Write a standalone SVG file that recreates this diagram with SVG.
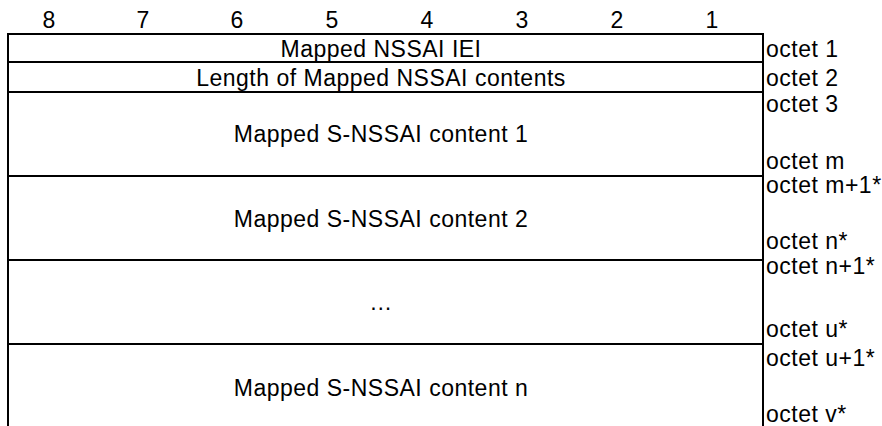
<svg xmlns="http://www.w3.org/2000/svg" width="882" height="426" viewBox="0 0 882 426">
<style>
text{font-family:"Liberation Sans",Arial,sans-serif;font-size:23px;letter-spacing:0.5px;fill:#000}
.c{text-anchor:middle}
.h{font-size:23px;letter-spacing:0}
.ln{stroke:#000;stroke-width:2;fill:none}
</style>
<rect width="882" height="426" fill="#fff"/>
<g id="header">
<text class="c h" x="49" y="28">8</text>
<text class="c h" x="143" y="28">7</text>
<text class="c h" x="237" y="28">6</text>
<text class="c h" x="332" y="28">5</text>
<text class="c h" x="427" y="28">4</text>
<text class="c h" x="522" y="28">3</text>
<text class="c h" x="617" y="28">2</text>
<text class="c h" x="712" y="28">1</text>
</g>
<g id="lines">
<path class="ln" d="M8 34H763M8 62H763M8 92H763M8 176H763M8 260H763M8 344H763M8 33V426M763 33V426"/>
</g>
<g id="iei"><text class="c" x="381" y="57">Mapped NSSAI IEI</text></g>
<g id="len"><text class="c" x="381" y="86">Length of Mapped NSSAI contents</text></g>
<g id="c1"><text class="c" x="381" y="142">Mapped S-NSSAI content 1</text></g>
<g id="c2"><text class="c" x="381" y="227">Mapped S-NSSAI content 2</text></g>
<g id="dots"><text class="c" x="381" y="310">…</text></g>
<g id="cn"><text class="c" x="381" y="396">Mapped S-NSSAI content n</text></g>
<g id="octets">
<text x="766" y="57">octet 1</text>
<text x="766" y="86">octet 2</text>
<text x="766" y="112">octet 3</text>
<text x="766" y="169">octet m</text>
<text x="766" y="193">octet m+1*</text>
<text x="766" y="249">octet n*</text>
<text x="766" y="274">octet n+1*</text>
<text x="766" y="337">octet u*</text>
<text x="766" y="366">octet u+1*</text>
<text x="766" y="422">octet v*</text>
</g>
</svg>
